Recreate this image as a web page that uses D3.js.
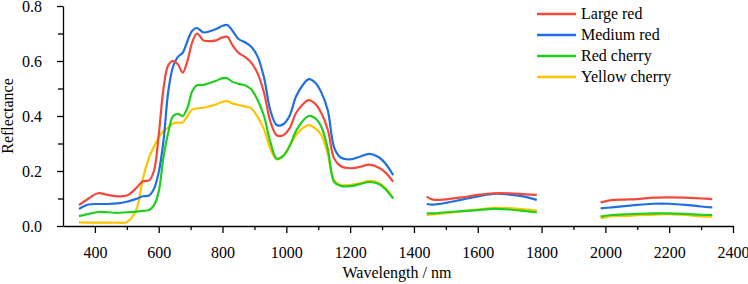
<!DOCTYPE html>
<html>
<head>
<meta charset="utf-8">
<script src="https://cdn.jsdelivr.net/npm/d3@7"></script>
<style>
  body { margin: 0; background: #fff; }
  .axis path, .axis line { stroke: #000; stroke-width: 1.3; }
</style>
</head>
<body>
<svg id="chart" width="748" height="284"></svg>
<script>
// wavelength grids of the three measured bands (nm)
var wlBand1 = [350, 380, 410, 440, 470, 500, 530, 550, 570, 585, 600, 615, 630, 645, 660, 675, 690, 705, 720, 740,
               760, 780, 800, 815, 830, 850, 870, 890, 910, 930, 950, 970, 990, 1010, 1030, 1050, 1070, 1090, 1110,
               1130, 1150, 1170, 1200, 1230, 1260, 1290, 1310, 1335];
var wlBand2 = [1440, 1460, 1500, 1550, 1600, 1650, 1700, 1750, 1785];
var wlBand3 = [1985, 2020, 2060, 2100, 2150, 2200, 2250, 2300, 2335];

var seriesNames = ["Large red", "Medium red", "Red cherry", "Yellow cherry"];

var largeRed = [
  [0.076, 0.100, 0.119, 0.113, 0.108, 0.111, 0.138, 0.163, 0.166, 0.200, 0.330, 0.500, 0.585, 0.600, 0.588, 0.558,
   0.600, 0.668, 0.700, 0.675, 0.672, 0.675, 0.686, 0.688, 0.660, 0.630, 0.615, 0.594, 0.555, 0.485, 0.380, 0.330,
   0.330, 0.355, 0.410, 0.440, 0.458, 0.445, 0.410, 0.350, 0.245, 0.218, 0.210, 0.215, 0.223, 0.212, 0.195, 0.161],
  [0.107, 0.096, 0.097, 0.104, 0.113, 0.119, 0.119, 0.115, 0.113],
  [0.086, 0.094, 0.096, 0.098, 0.103, 0.104, 0.103, 0.100, 0.098]
];
var mediumRed = [
  [0.062, 0.078, 0.080, 0.080, 0.082, 0.088, 0.099, 0.108, 0.111, 0.135, 0.195, 0.310, 0.490, 0.580, 0.615, 0.630,
   0.672, 0.710, 0.720, 0.704, 0.708, 0.716, 0.728, 0.731, 0.712, 0.680, 0.668, 0.652, 0.616, 0.540, 0.420, 0.367,
   0.370, 0.400, 0.470, 0.510, 0.534, 0.522, 0.485, 0.420, 0.285, 0.249, 0.242, 0.252, 0.262, 0.250, 0.228, 0.185],
  [0.080, 0.078, 0.084, 0.096, 0.108, 0.117, 0.114, 0.106, 0.095],
  [0.064, 0.068, 0.072, 0.077, 0.081, 0.081, 0.077, 0.071, 0.068]
];
var redCherry = [
  [0.036, 0.044, 0.051, 0.050, 0.048, 0.050, 0.052, 0.055, 0.058, 0.075, 0.125, 0.250, 0.340, 0.400, 0.408, 0.400,
   0.430, 0.490, 0.512, 0.513, 0.520, 0.528, 0.538, 0.537, 0.525, 0.517, 0.512, 0.497, 0.458, 0.400, 0.305, 0.245,
   0.255, 0.290, 0.345, 0.380, 0.400, 0.392, 0.360, 0.280, 0.160, 0.146, 0.145, 0.152, 0.160, 0.153, 0.135, 0.100],
  [0.046, 0.046, 0.050, 0.054, 0.058, 0.062, 0.060, 0.054, 0.050],
  [0.034, 0.040, 0.042, 0.044, 0.046, 0.046, 0.044, 0.041, 0.040]
];
var yellowCherry = [
  [0.013, 0.012, 0.012, 0.012, 0.012, 0.014, 0.060, 0.170, 0.250, 0.288, 0.322, 0.345, 0.358, 0.373, 0.376, 0.376,
   0.400, 0.423, 0.428, 0.430, 0.436, 0.442, 0.452, 0.454, 0.446, 0.440, 0.435, 0.428, 0.397, 0.352, 0.280, 0.242,
   0.255, 0.290, 0.330, 0.355, 0.367, 0.356, 0.330, 0.260, 0.165, 0.149, 0.149, 0.155, 0.164, 0.156, 0.138, 0.100],
  [0.040, 0.042, 0.047, 0.053, 0.060, 0.066, 0.065, 0.060, 0.056],
  [0.028, 0.036, 0.037, 0.039, 0.041, 0.043, 0.040, 0.035, 0.034]
];

var xTicks = [400, 600, 800, 1000, 1200, 1400, 1600, 1800, 2000, 2200, 2400];
var yTicks = [0, 0.2, 0.4, 0.6, 0.8];

var colors = ["#f04a3c", "#1f6fe0", "#1fcf1f", "#ffc400"];
var serif = "'Liberation Serif', 'Times New Roman', serif";

var svg = d3.select("#chart");
var x = d3.scaleLinear().domain([300, 2400]).range([63, 733]);
var y = d3.scaleLinear().domain([0, 0.8]).range([226, 6]);

function styleText(g) {
  g.attr("font-family", serif);
  g.selectAll("text").attr("font-family", serif).attr("font-size", 16).attr("fill", "#000");
}

// x axis: major labelled ticks + minor ticks
var xMinor = d3.range(500, 2400, 200);
svg.append("g").attr("class", "axis").attr("transform", "translate(0,226)")
  .call(d3.axisBottom(x).tickValues(xMinor).tickSize(4).tickFormat(""))
  .call(function(g) { g.select(".domain").remove(); });
svg.append("g").attr("class", "axis").attr("transform", "translate(0,226)")
  .call(d3.axisBottom(x).tickValues(xTicks).tickSizeInner(7).tickSizeOuter(0).tickPadding(14).tickFormat(d3.format("d")))
  .call(styleText);

// y axis
var yMinor = [0.1, 0.3, 0.5, 0.7];
svg.append("g").attr("class", "axis").attr("transform", "translate(63,0)")
  .call(d3.axisLeft(y).tickValues(yMinor).tickSize(5).tickFormat(""))
  .call(function(g) { g.select(".domain").remove(); });
svg.append("g").attr("class", "axis").attr("transform", "translate(63,0)")
  .call(d3.axisLeft(y).tickValues(yTicks).tickSizeInner(6).tickSizeOuter(0).tickPadding(15).tickFormat(d3.format(".1f")))
  .call(styleText)
  .call(function(g) { g.selectAll(".tick text").attr("dy", "0.36em"); });

svg.append("text").attr("x", 397).attr("y", 278).attr("text-anchor", "middle")
  .attr("font-family", serif).attr("font-size", 16).text("Wavelength / nm");
svg.append("text").attr("transform", "translate(13,116) rotate(-90)").attr("text-anchor", "middle")
  .attr("font-family", serif).attr("font-size", 16).text("Reflectance");

var bands = [wlBand1, wlBand2, wlBand3];
var allSeries = [largeRed, mediumRed, redCherry, yellowCherry];

var line = d3.line()
  .x(function(d) { return x(d[0]); })
  .y(function(d) { return y(d[1]); })
  .curve(d3.curveCatmullRom.alpha(0.5));

// draw back-to-front so red sits on top like the original
[3, 2, 1, 0].forEach(function(si) {
  var g = svg.append("g");
  allSeries[si].forEach(function(vals, bi) {
    var pts = bands[bi].map(function(w, i) { return [w, vals[i]]; });
    g.append("path").datum(pts)
      .attr("d", line)
      .attr("fill", "none")
      .attr("stroke", colors[si])
      .attr("stroke-width", 2.2)
      .attr("stroke-linejoin", "round");
  });
});

// legend
var legend = svg.append("g").attr("transform", "translate(537,14)");
seriesNames.forEach(function(name, i) {
  var row = legend.append("g").attr("transform", "translate(0," + (i * 21) + ")");
  row.append("line").attr("x1", 0).attr("x2", 39).attr("y1", 0).attr("y2", 0)
    .attr("stroke", colors[i]).attr("stroke-width", 2.6);
  row.append("text").attr("x", 44).attr("y", 0).attr("dy", "0.33em")
    .attr("font-family", serif).attr("font-size", 16).text(name);
});
</script>
</body>
</html>
